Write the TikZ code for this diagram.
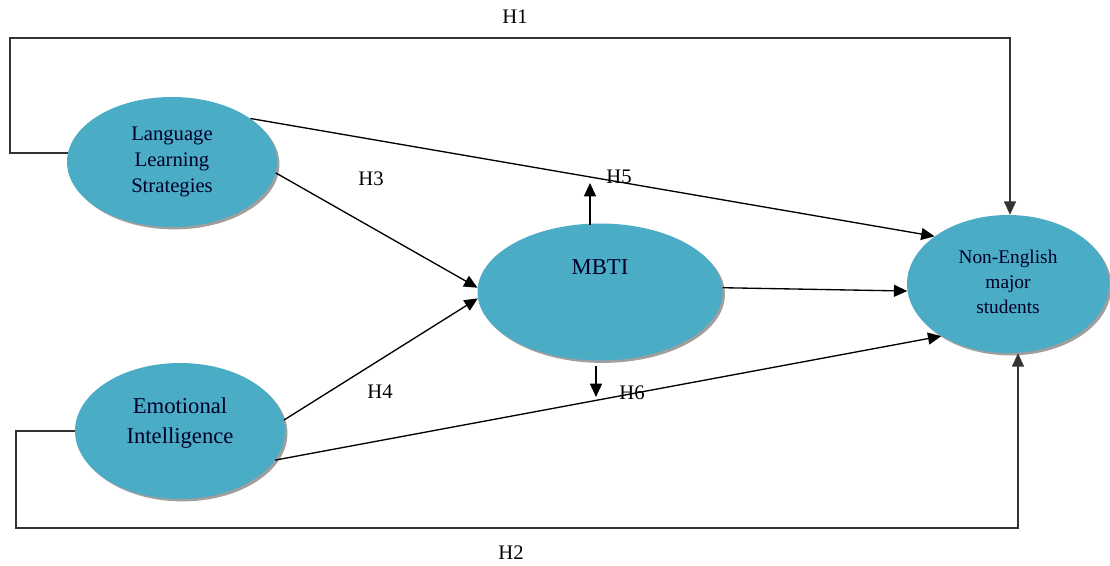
\documentclass[tikz,border=0pt]{standalone}
\usepackage{fontspec}
\setmainfont{Liberation Serif}
\usetikzlibrary{arrows.meta,shapes.geometric,shadows}
\definecolor{bubblefill}{HTML}{4BACC6}
\definecolor{linegray}{HTML}{333333}
\begin{document}
\begin{tikzpicture}[x=0.75pt,y=-0.75pt,
  bubble/.style={ellipse,fill=bubblefill,inner sep=0pt,
    drop shadow={shadow xshift=1.8pt,shadow yshift=-1.8pt,fill=gray!75,opacity=1}},
  txt/.style={align=center,text=black!85!blue},
  hlab/.style={font=\fontsize{15.5}{18}\selectfont,inner sep=0pt},
  arr/.style={draw=black,line width=1pt,-{Triangle[length=10pt,width=9pt]}},
  looparr/.style={arr,draw=linegray}]
\useasboundingbox (0,0) rectangle (1110,566);
% ellipses
\node[bubble,minimum width=157.5pt,minimum height=97.5pt] (lls) at (172,162) {};
\node[bubble,minimum width=157.5pt,minimum height=102pt] (ei) at (180,431) {};
\node[bubble,minimum width=183.75pt,minimum height=102.75pt] (mbti) at (600,292) {};
\node[bubble,minimum width=151.5pt,minimum height=103.5pt] (nes) at (1008,284) {};
% texts
\node[txt,font=\fontsize{15.5}{19.5}\selectfont] (llst) at (172,162) {Language\\Learning\\Strategies};
\node[txt,font=\fontsize{17}{22.5}\selectfont] (eit) at (180,423) {Emotional\\Intelligence};
\node[txt,font=\fontsize{17}{20}\selectfont] (mbtit) at (600,267) {MBTI};
\node[txt,font=\fontsize{14.5}{19}\selectfont] (nest) at (1008,282) {Non-English\\major\\students};
% coordinates
\coordinate (h5s) at (590,225);
\coordinate (h5e) at (590,183);
\coordinate (h6s) at (596,366);
\coordinate (h6e) at (596,397);
% loops
\draw[looparr] (lls.175) -| (10,38) -| ([xshift=1.5pt]nes.north);
\draw[looparr] (ei.west) -| (16,528) -| ([xshift=7.5pt]nes.south);
% arrows
\draw[arr] (lls.29) -- (nes.147);
\draw[arr] (lls.-6) -- (mbti.178);
\draw[arr] (ei.6) -- (mbti.183);
\draw[arr] (ei.-17) -- (nes.218);
\draw[arr] (mbti.2) -- (nes.184);
\draw[arr] (h5s) -- (h5e);
\draw[arr] (h6s) -- (h6e);
% labels
\node[hlab] (H1) at (515,17) {H1};
\node[hlab] (H2) at (511,553) {H2};
\node[hlab] (H3) at (371,179) {H3};
\node[hlab] (H4) at (380,392) {H4};
\node[hlab] (H5) at (619,177) {H5};
\node[hlab] (H6) at (632,393) {H6};
\end{tikzpicture}
\end{document}
